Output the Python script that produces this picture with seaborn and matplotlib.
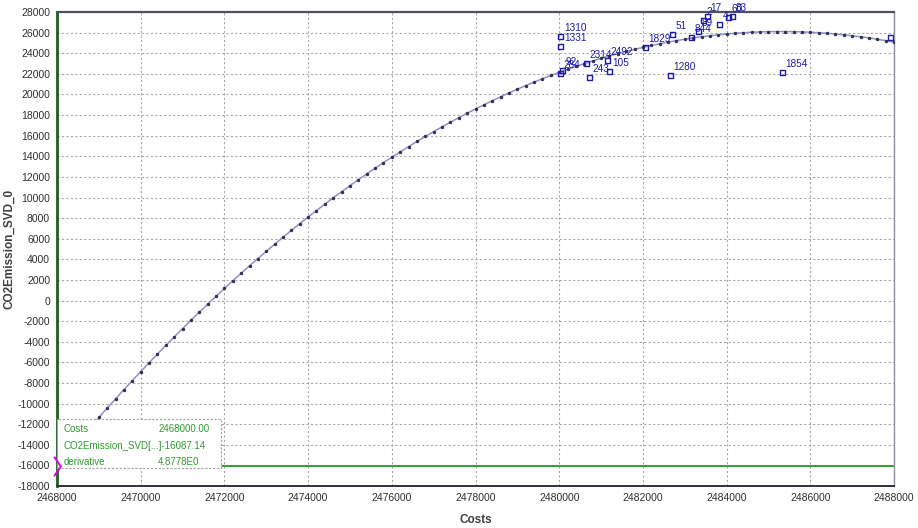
import matplotlib
matplotlib.use("Agg")
import numpy as np
import pandas as pd
import seaborn as sns
import matplotlib.pyplot as plt
from matplotlib.path import Path
from matplotlib.ticker import MultipleLocator, FuncFormatter
from matplotlib.patches import Rectangle

# ---------------- data ----------------
curve_costs = list(range(2468000, 2488001, 200))
curve_co2 = [
    -16086, -15116, -14157, -13210, -12274, -11349, -10435, -9533, -8642, -7762,
    -6894, -6037, -5191, -4356, -3533, -2721, -1920, -1131, -353, 414,
    1170, 1914, 2648, 3369, 4080, 4779, 5467, 6144, 6809, 7463,
    8106, 8738, 9358, 9967, 10565, 11151, 11727, 12290, 12843, 13385,
    13915, 14433, 14941, 15437, 15922, 16396, 16858, 17309, 17749, 18178,
    18595, 19001, 19396, 19779, 20152, 20513, 20862, 21201, 21528, 21843,
    22148, 22441, 22723, 22994, 23253, 23501, 23738, 23964, 24178, 24381,
    24573, 24753, 24922, 25080, 25227, 25362, 25486, 25599, 25701, 25791,
    25870, 25937, 25994, 26039, 26073, 26095, 26107,
    26107, 26095, 26073, 26039, 25994, 25937, 25870, 25791, 25701, 25599,
    25486, 25362, 25227, 25080,
]

point_labels = ["1310", "1331", "92", "284", "2314", "243", "105", "2492",
                "1829", "51", "1280", "844", "89", "2", "17", "4", "60", "83",
                "1854", ""]
point_costs = [2480040, 2480040, 2480067, 2480019, 2480640, 2480712, 2481190,
               2481142, 2482050, 2482695, 2482648, 2483149, 2483317, 2483436,
               2483532, 2483818, 2484033, 2484129, 2485324, 2487904]
point_co2 = [25670, 24700, 22370, 22080, 23050, 21692, 22274, 23342,
             24603, 25865, 21886, 25574, 26156, 27224, 27612, 26835,
             27515, 27612, 22177, 25574]

cursor_cost = 2468000
cursor_value = -16087.14
cursor_derivative = "4.8778E0"

x_ticks = list(range(2468000, 2488001, 2000))
y_ticks = list(range(-18000, 28001, 2000))

curve_df = pd.DataFrame({"Costs": curve_costs, "CO2Emission_SVD_0": curve_co2})
pts_df = pd.DataFrame({"Costs": point_costs, "CO2Emission_SVD_0": point_co2,
                       "label": point_labels})

# ---------------- style ----------------
sns.set_style("white")
plt.rcParams["font.family"] = ["Liberation Sans", "DejaVu Sans"]

fig = plt.figure(figsize=(9.18, 5.28), dpi=100)
ax = fig.add_axes([0.0621, 0.0795, 0.9118, 0.8977])

# regression curve
sns.lineplot(data=curve_df, x="Costs", y="CO2Emission_SVD_0", ax=ax,
             color="#9090cc", linewidth=1.1, marker="o", markersize=1.7,
             markerfacecolor="#303050", markeredgecolor="#303050", zorder=3)

# observations
sns.scatterplot(data=pts_df, x="Costs", y="CO2Emission_SVD_0", ax=ax,
                marker="s", s=13, facecolor="none", edgecolor="#1c1ca8",
                linewidth=1.0, zorder=4)
for c, v, lab in zip(point_costs, point_co2, point_labels):
    if lab:
        t = ax.annotate(lab, (c, v), xytext=(2.5, 2.5), textcoords="offset points",
                        fontsize=7.2, color="#1c1ca8", ha="left", va="bottom",
                        annotation_clip=False)
        t.set_clip_on(True)

# cursor line
ax.axhline(cursor_value, color="#2fa32f", linewidth=1.4, zorder=2)
chev = Path([(-0.35, 1.0), (0.35, 0.0), (-0.35, -1.0)],
            [Path.MOVETO, Path.LINETO, Path.LINETO])
ax.plot([cursor_cost], [cursor_value], marker=chev, markersize=14,
        markerfacecolor="none", markeredgecolor="#e000e0", markeredgewidth=1.4,
        clip_on=False, zorder=6)

# axes ranges / ticks
ax.set_xlim(x_ticks[0], x_ticks[-1])
ax.set_ylim(y_ticks[0], y_ticks[-1])
ax.set_xticks(x_ticks)
ax.set_yticks(y_ticks)
ax.xaxis.set_minor_locator(MultipleLocator(1000))
ax.yaxis.set_minor_locator(MultipleLocator(1000))
fmt = FuncFormatter(lambda v, p: f"{int(round(v))}")
ax.xaxis.set_major_formatter(fmt)
ax.yaxis.set_major_formatter(fmt)
ax.tick_params(axis="both", which="major", labelsize=7.5, colors="#303030",
               direction="inout", length=6, width=1.0, pad=2)
ax.tick_params(axis="both", which="minor", direction="inout", length=4, width=0.9,
               colors="#303030")
ax.tick_params(axis="y", which="both", colors="#1d5e1d", labelcolor="#303030")

ax.grid(True, which="major", color="#a8a8a8", linestyle=(0, (2, 2)), linewidth=0.8)
ax.set_axisbelow(True)

for side, col, lw in [("top", "#505060", 1.6), ("right", "#9090a0", 1.0),
                      ("bottom", "#303040", 1.4), ("left", "#1d5e1d", 2.0)]:
    ax.spines[side].set_visible(True)
    ax.spines[side].set_color(col)
    ax.spines[side].set_linewidth(lw)

ax.set_xlabel("Costs", fontsize=8.5, fontweight="bold", color="#404040", labelpad=8)
ax.set_ylabel("CO2Emission_SVD_0", fontsize=8.5, fontweight="bold", color="#404040")
ax.yaxis.set_label_coords(-0.05, 0.5)

# info box
box = Rectangle((0.0, 0.037), 0.196, 0.104, transform=ax.transAxes,
                facecolor="white", edgecolor="#a0a0a0", linewidth=0.8,
                linestyle=(0, (2, 1.5)), zorder=5)
ax.add_patch(box)
green = "#2f9a2f"
ys = [0.121, 0.084, 0.050]
ax.text(0.008, ys[0], "Costs", transform=ax.transAxes, fontsize=7, color=green,
        va="center", ha="left", zorder=6)
ax.text(0.121, ys[0], f"{cursor_cost:.2f}", transform=ax.transAxes, fontsize=7,
        color=green, va="center", ha="left", zorder=6)
ax.text(0.008, ys[1], f"CO2Emission_SVD[...]{cursor_value:.2f}", transform=ax.transAxes,
        fontsize=7, color=green, va="center", ha="left", zorder=6)
ax.text(0.008, ys[2], "derivative", transform=ax.transAxes, fontsize=7, color=green,
        va="center", ha="left", zorder=6)
ax.text(0.121, ys[2], cursor_derivative, transform=ax.transAxes, fontsize=7,
        color=green, va="center", ha="left", zorder=6)

fig.savefig("out.png", dpi=100)
